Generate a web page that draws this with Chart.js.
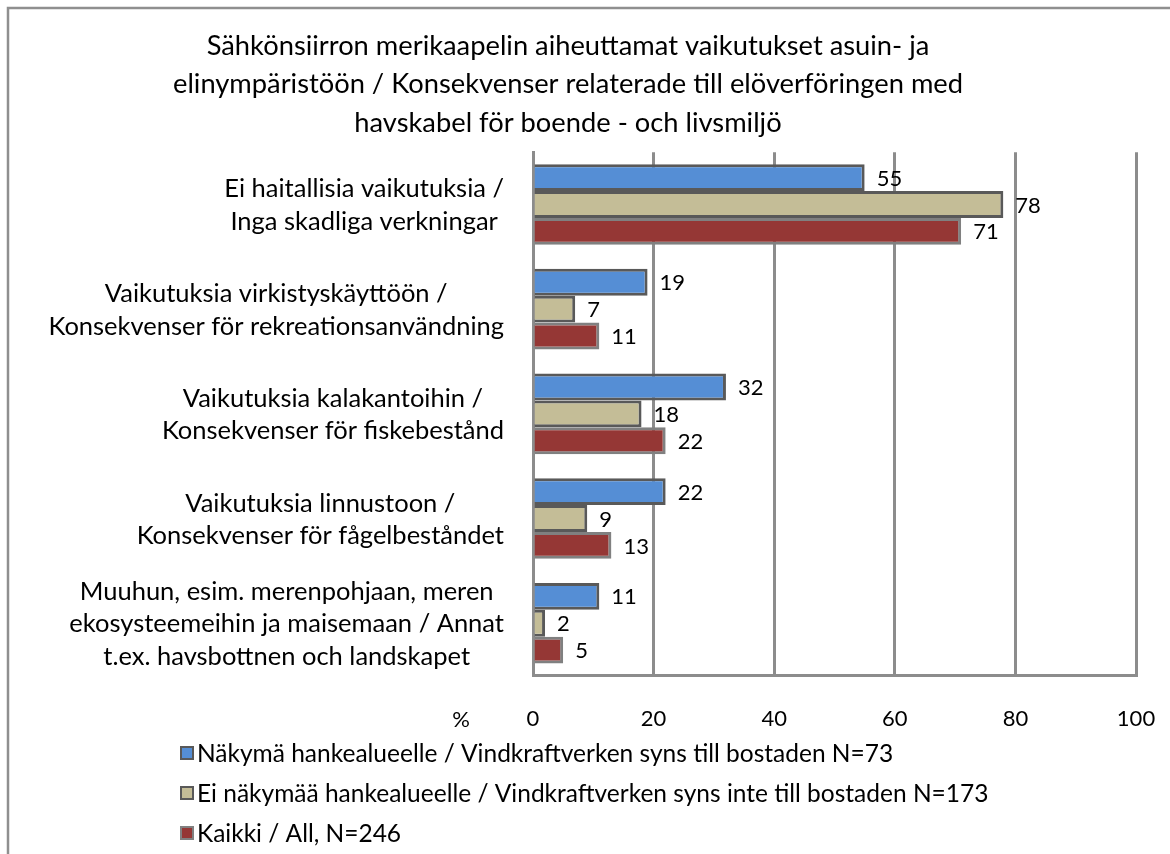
<!DOCTYPE html>
<html>
<head>
<meta charset="utf-8">
<script src="https://cdn.jsdelivr.net/npm/chart.js@4.4.1/dist/chart.umd.min.js"></script>
<style>
html,body{margin:0;padding:0;background:#fff;}
#wrap{width:1170px;height:854px;position:relative;}
</style>
</head>
<body>
<div id="wrap"><canvas id="c" width="1170" height="854"></canvas></div>
<script>
const titleLines = [
  'Sähkönsiirron merikaapelin aiheuttamat vaikutukset asuin- ja',
  'elinympäristöön / Konsekvenser relaterade till elöverföringen med',
  'havskabel för boende - och livsmiljö'
];
const categories = [
  ['Ei haitallisia vaikutuksia /', 'Inga skadliga verkningar'],
  ['Vaikutuksia virkistyskäyttöön /', 'Konsekvenser för rekreationsanvändning'],
  ['Vaikutuksia kalakantoihin /', 'Konsekvenser för fiskebestånd'],
  ['Vaikutuksia linnustoon /', 'Konsekvenser för fågelbeståndet'],
  ['Muuhun, esim. merenpohjaan, meren', 'ekosysteemeihin ja maisemaan / Annat', 't.ex. havsbottnen och landskapet']
];
const seriesNames = [
  'Näkymä hankealueelle / Vindkraftverken syns till bostaden N=73',
  'Ei näkymää hankealueelle / Vindkraftverken syns inte till bostaden N=173',
  'Kaikki / All, N=246'
];
const visibleValues = [55, 19, 32, 22, 11];
const notVisibleValues = [78, 7, 18, 9, 2];
const allValues = [71, 11, 22, 13, 5];
const xTicksMin = 0, xTicksMax = 100, xTickStep = 20;
const axisUnit = '%';

const FONT = 'Lato, "Open Sans", sans-serif';
const fillColors = ['#558ED5', '#C4BD97', '#953735'];
const borderColors = ['#595959', '#595959', '#808080'];
const gridColor = '#8c8c8c';

const bgBorder = {
  id: 'bgBorder',
  beforeDraw(chart) {
    const ctx = chart.ctx;
    ctx.save();
    ctx.fillStyle = '#fff';
    ctx.fillRect(0, 0, chart.width, chart.height);
    ctx.strokeStyle = '#8f8f8f';
    ctx.lineWidth = 2.5;
    ctx.strokeRect(8, 8, chart.width + 20, chart.height + 20);
    ctx.restore();
  }
};

const customText = {
  id: 'customText',
  afterDatasetsDraw(chart) {
    const ctx = chart.ctx;
    ctx.save();
    ctx.fillStyle = '#000';
    ctx.font = '22px ' + FONT;
    ctx.textAlign = 'left';
    ctx.textBaseline = 'middle';
    chart.data.datasets.forEach((ds, i) => {
      const meta = chart.getDatasetMeta(i);
      meta.data.forEach((el, j) => {
        ctx.fillText(String(ds.data[j]), el.x + 12, el.y + 1);
      });
    });
    ctx.restore();
  },
  afterDraw(chart) {
    const ctx = chart.ctx;
    const y = chart.scales.y, x = chart.scales.x;
    ctx.save();
    ctx.fillStyle = '#000';
    ctx.font = '25.5px ' + FONT;
    ctx.textBaseline = 'middle';
    ctx.textAlign = 'center';
    const rightEdge = 504;
    const lh = 32.5;
    chart.data.labels.forEach((lab, i) => {
      const cy = y.getPixelForTick(i);
      let maxW = 0;
      lab.forEach(l => { maxW = Math.max(maxW, ctx.measureText(l).width); });
      const cx = rightEdge - maxW / 2;
      const n = lab.length;
      lab.forEach((l, k) => {
        ctx.fillText(l, cx, cy + (k - (n - 1) / 2) * lh + 1);
      });
    });
    // axis unit
    ctx.font = '22px ' + FONT;
    ctx.fillText(axisUnit, x.getPixelForValue(0) - 72, 720);
    // legend (centered block, rows left-aligned)
    ctx.font = '24.5px ' + FONT;
    ctx.textAlign = 'left';
    const box = 12, gap = 4;
    let maxRow = 0;
    chart.data.datasets.forEach(ds => { maxRow = Math.max(maxRow, box + gap + ctx.measureText(ds.label).width); });
    const lx = Math.round(chart.width / 2 - maxRow / 2);
    chart.data.datasets.forEach((ds, i) => {
      const ly = 753 + i * 40;
      ctx.fillStyle = ds.backgroundColor;
      ctx.fillRect(lx, ly - 6, box, box);
      ctx.strokeStyle = ds.borderColor;
      ctx.lineWidth = 2;
      ctx.strokeRect(lx, ly - 6, box, box);
      ctx.fillStyle = '#000';
      ctx.fillText(ds.label, lx + box + gap, ly + 1);
    });
    ctx.restore();
  }
};

new Chart(document.getElementById('c'), {
  type: 'bar',
  data: {
    labels: categories,
    datasets: [
      { label: seriesNames[0], data: visibleValues, backgroundColor: fillColors[0], borderColor: borderColors[0] },
      { label: seriesNames[1], data: notVisibleValues, backgroundColor: fillColors[1], borderColor: borderColors[1] },
      { label: seriesNames[2], data: allValues, backgroundColor: fillColors[2], borderColor: borderColors[2] }
    ]
  },
  options: {
    indexAxis: 'y',
    responsive: false,
    animation: false,
    devicePixelRatio: 1,
    layout: { padding: { left: 0, right: 34, top: 0, bottom: 92 } },
    datasets: {
      bar: {
        borderWidth: 3,
        borderSkipped: 'start',
        categoryPercentage: 0.77,
        barPercentage: 1.0
      }
    },
    plugins: {
      legend: { display: false },
      tooltip: { enabled: false },
      title: {
        display: true,
        text: titleLines,
        color: '#000',
        font: { family: FONT, size: 27.3, weight: 'normal', lineHeight: 1.418 },
        padding: { top: 26.5, bottom: 9.5 }
      }
    },
    scales: {
      x: {
        min: xTicksMin,
        max: xTicksMax,
        ticks: { stepSize: xTickStep, color: '#000', font: { family: FONT, size: 22 }, padding: 30 },
        grid: { color: gridColor, lineWidth: 3, drawTicks: false },
        border: { color: gridColor, width: 3 },
        afterFit(scale) { scale.paddingLeft = 0; scale.paddingRight = 0; }
      },
      y: {
        ticks: { display: false },
        grid: { display: false },
        border: { color: gridColor, width: 3 },
        afterFit(scale) { scale.width = 533; scale.paddingTop = 0; scale.paddingBottom = 0; }
      }
    }
  },
  plugins: [bgBorder, customText]
});
</script>
</body>
</html>
